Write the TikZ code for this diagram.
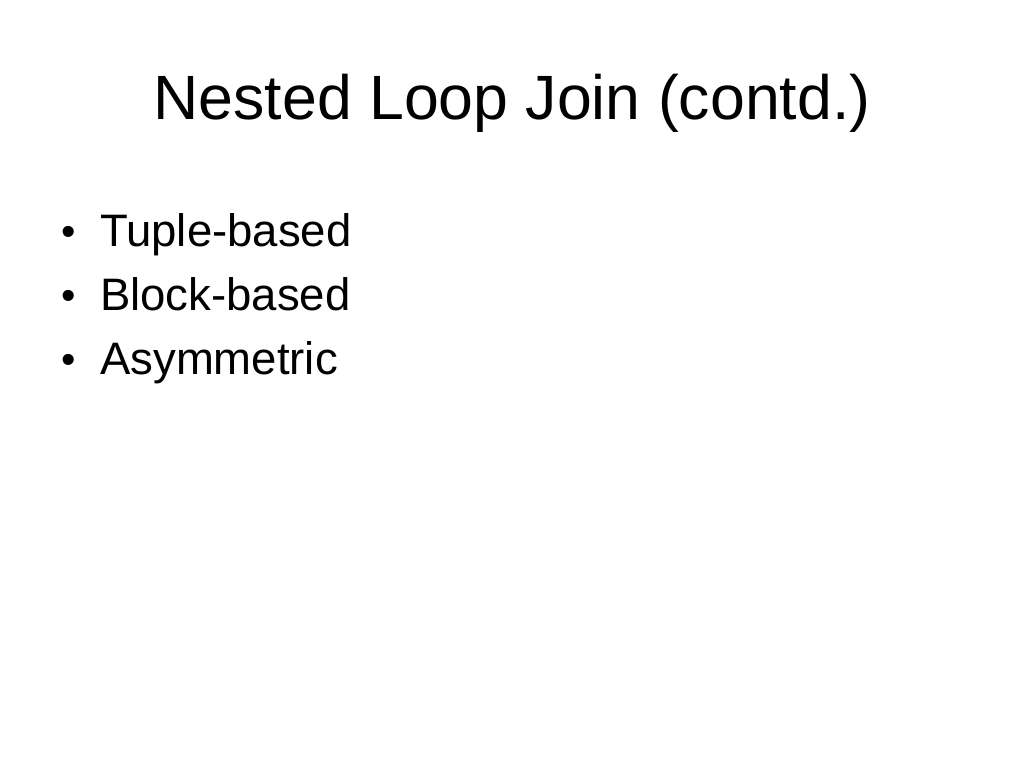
\documentclass[tikz,border=0pt]{standalone}
\usepackage{fontspec}
\setmainfont{Liberation Sans}
\begin{document}
\begin{tikzpicture}[x=1pt,y=1pt,
  titletext/.style={inner sep=0pt,font=\fontsize{62.6}{70}\selectfont,anchor=base},
  bullettext/.style={inner sep=0pt,font=\fontsize{45.5}{52}\selectfont,anchor=base west},
  bulletmark/.style={inner sep=0pt,font=\fontsize{41}{48}\selectfont,anchor=base west}]
\useasboundingbox[fill=white] (0,0) rectangle (1024,768);
\node[titletext] (title) at (512,768-120) {Nested Loop Join (contd.)};
\node[bulletmark] (b1) at (61,768-246) {•};
\node[bullettext] (t1) at (100,768-247) {Tuple-based};
\node[bulletmark] (b2) at (61,768-310) {•};
\node[bullettext] (t2) at (100,768-311) {Block-based};
\node[bulletmark] (b3) at (61,768-374) {•};
\node[bullettext] (t3) at (100,768-375) {Asymmetric};
\end{tikzpicture}
\end{document}
